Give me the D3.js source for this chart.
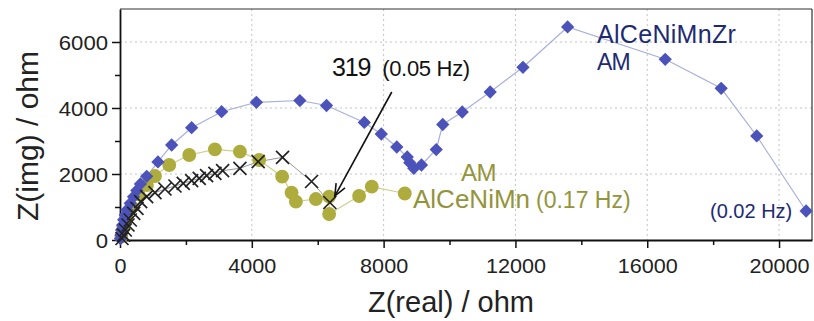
<!DOCTYPE html>
<html><head><meta charset="utf-8">
<script src="https://cdn.jsdelivr.net/npm/d3@7"></script>
<style>body{margin:0;background:#fff;} svg{display:block;font-family:"Liberation Sans",Arial,sans-serif;}</style>
</head><body>
<svg id="c" width="814" height="321"></svg>
<script>
// AlCeNiMnZr AM (blue diamonds) [Z real, Z img]
const zrSeries = [[15,40],[30,150],[45,300],[75,450],[110,610],[160,760],[210,910],[310,1110],[410,1310],[510,1500],[620,1700],[810,1930],[1152,2364],[1568,2879],[2174,3403],[3084,3888],[4139,4173],[5458,4227],[6267,4076],[7414,3561],[7929,3212],[8399,2818],[8717,2515],[8793,2342],[8915,2173],[9148,2273],[9597,2742],[9794,3500],[10385,3879],[11234,4485],[12229,5233],[13584,6455],[16546,5476],[18244,4597],[19323,3152],[20822,879]];
// AlCeNiMn AM (olive circles)
const mnSeries = [[40,100],[100,350],[200,650],[350,1000],[560,1380],[818,1667],[1061,1939],[1495,2273],[2101,2576],[2880,2748],[3639,2676],[4224,2424],[4921,1918],[5206,1433],[5337,1161],[5943,1242],[6347,1312],[6347,788],[7256,1333],[7641,1615],[8642,1409]];
// third sample (black crosses)
const xSeries = [[60,45],[112,150],[161,303],[243,455],[312,606],[415,809],[515,960],[628,1161],[810,1312],[1061,1433],[1364,1545],[1668,1636],[1919,1718],[2174,1797],[2404,1870],[2629,1948],[2880,2021],[3114,2100],[3639,2173],[4193,2373],[4933,2506],[5813,1773],[6367,1136]];
const xTicks = [0,4000,8000,12000,16000,20000];
const xMinor = [2000,6000,10000,14000,18000];
const yTicks = [0,2000,4000,6000];
const yMinor = [1000,3000,5000];
const arrowStart = [8247,4485];
const arrowEnd = [6519,1333];

const svg = d3.select("#c");
const L=120, R=812, T=9, B=240;
const x = d3.scaleLinear().domain([0,21000]).range([L,R]);
const y = d3.scaleLinear().domain([0,7000]).range([B,T]);

const BLUE="#4b52ba", BLUEL="#a9afdb", OLIVE="#adac3c", OLIVEL="#cfcf8e", NAVY="#1e2a72", OLTXT="#94943a";

// grid
const g = svg.append("g");
g.selectAll(".gx").data(xTicks.slice(1)).join("line")
 .attr("x1",d=>x(d)).attr("x2",d=>x(d)).attr("y1",T).attr("y2",B)
 .attr("stroke","#c4c4c4").attr("stroke-width",1).attr("stroke-dasharray","2,3");
g.selectAll(".gy").data(yTicks.slice(1)).join("line")
 .attr("y1",d=>y(d)).attr("y2",d=>y(d)).attr("x1",L).attr("x2",R)
 .attr("stroke","#c4c4c4").attr("stroke-width",1).attr("stroke-dasharray","2,3");

// frame top/right
svg.append("line").attr("x1",L).attr("x2",R).attr("y1",T).attr("y2",T).attr("stroke","#333").attr("stroke-width",1.2);
svg.append("line").attr("x1",R).attr("x2",R).attr("y1",T).attr("y2",B).attr("stroke","#333").attr("stroke-width",1.2);

// axes
const stretch = 1.08;
const xAxis = d3.axisBottom(x).tickValues(xTicks).tickSize(8).tickSizeOuter(0).tickFormat(d3.format("d"));
const xa = svg.append("g").attr("transform",`translate(0,${B})`).call(xAxis);
const xAxisMinor = d3.axisBottom(x).tickValues(xMinor).tickSize(5).tickSizeOuter(0).tickFormat("");
svg.append("g").attr("transform",`translate(0,${B})`).call(xAxisMinor).select(".domain").remove();
const yAxis = d3.axisLeft(y).tickValues(yTicks).tickSize(8).tickSizeOuter(0).tickFormat(d3.format("d"));
const ya = svg.append("g").attr("transform",`translate(${L},0)`).call(yAxis);
const yAxisMinor = d3.axisLeft(y).tickValues(yMinor).tickSize(5).tickSizeOuter(0).tickFormat("");
svg.append("g").attr("transform",`translate(${L},0)`).call(yAxisMinor).select(".domain").remove();
svg.selectAll(".domain").attr("stroke","#111").attr("stroke-width",1.8);
svg.selectAll(".tick line").attr("stroke","#111").attr("stroke-width",1.5);

xa.selectAll(".tick text").attr("font-size",20).attr("fill","#222").attr("dy",null).attr("y",0)
  .attr("transform",`translate(0,33) scale(${stretch},1)`);
ya.selectAll(".tick text").attr("font-size",20.5).attr("fill","#222").attr("x",0).attr("dy","0.35em")
  .attr("transform",`translate(-12,0) scale(${stretch},1)`);

// axis titles
svg.append("text").attr("x",451).attr("y",312).attr("text-anchor","middle").attr("font-size",29).attr("fill","#222").text("Z(real) / ohm");
svg.append("text").attr("transform","translate(38,136) rotate(-90)").attr("text-anchor","middle").attr("font-size",30).attr("fill","#222").text("Z(img) / ohm");

// lines
const line = d3.line().x(d=>x(d[0])).y(d=>y(d[1]));
svg.append("path").datum(zrSeries).attr("d",line).attr("fill","none").attr("stroke",BLUEL).attr("stroke-width",1.2);
svg.append("path").datum(mnSeries).attr("d",line).attr("fill","none").attr("stroke",OLIVEL).attr("stroke-width",1.2);
svg.append("path").datum(xSeries).attr("d",line).attr("fill","none").attr("stroke","#999").attr("stroke-width",1);

// markers
svg.append("g").selectAll("path").data(mnSeries).join("path")
 .attr("d",d3.symbol(d3.symbolCircle,150)).attr("transform",d=>`translate(${x(d[0])},${y(d[1])})`).attr("fill",OLIVE);
svg.append("g").selectAll("path").data(zrSeries).join("path")
 .attr("d",d3.symbol(d3.symbolSquare,88)).attr("transform",d=>`translate(${x(d[0])},${y(d[1])}) rotate(45)`).attr("fill",BLUE);
svg.append("g").selectAll("path").data(xSeries).join("path")
 .attr("d","M-6.5,-6.5L6.5,6.5M-6.5,6.5L6.5,-6.5").attr("transform",d=>`translate(${x(d[0])},${y(d[1])})`).attr("stroke","#222").attr("stroke-width",1.7).attr("fill","none");

// arrow
const ax1=x(arrowStart[0]), ay1=y(arrowStart[1]), ax2=x(arrowEnd[0]), ay2=y(arrowEnd[1]);
svg.append("line").attr("x1",ax1).attr("y1",ay1).attr("x2",ax2).attr("y2",ay2).attr("stroke","#111").attr("stroke-width",1.6);
const ang=Math.atan2(ay2-ay1,ax2-ax1), hl=13, ha=0.4;
svg.append("path").attr("d",`M${ax2-hl*Math.cos(ang-ha)},${ay2-hl*Math.sin(ang-ha)}L${ax2},${ay2}L${ax2-hl*Math.cos(ang+ha)},${ay2-hl*Math.sin(ang+ha)}`)
 .attr("fill","none").attr("stroke","#111").attr("stroke-width",1.6);

// annotations
const t1 = svg.append("text").attr("x",332).attr("y",76).attr("fill","#111");
t1.append("tspan").attr("font-size",25).attr("letter-spacing",-1.2).text("319");
t1.append("tspan").attr("font-size",22).attr("dx",12).attr("letter-spacing",-0.3).text("(0.05 Hz)");

svg.append("text").attr("x",597).attr("y",43).attr("font-size",25).attr("letter-spacing",0.3).attr("fill",NAVY).text("AlCeNiMnZr");
svg.append("text").attr("x",597).attr("y",70).attr("font-size",23).attr("letter-spacing",-0.8).attr("fill",NAVY).text("AM");
svg.append("text").attr("x",710).attr("y",218).attr("font-size",20).attr("fill",NAVY).text("(0.02 Hz)");

svg.append("text").attr("x",461).attr("y",181).attr("font-size",24).attr("letter-spacing",-0.5).attr("fill",OLTXT).text("AM");
const t2 = svg.append("text").attr("x",413).attr("y",208).attr("fill",OLTXT);
t2.append("tspan").attr("font-size",26).text("AlCeNiMn");
t2.append("tspan").attr("font-size",23).attr("dx",6).text("(0.17 Hz)");
</script>
</body></html>
